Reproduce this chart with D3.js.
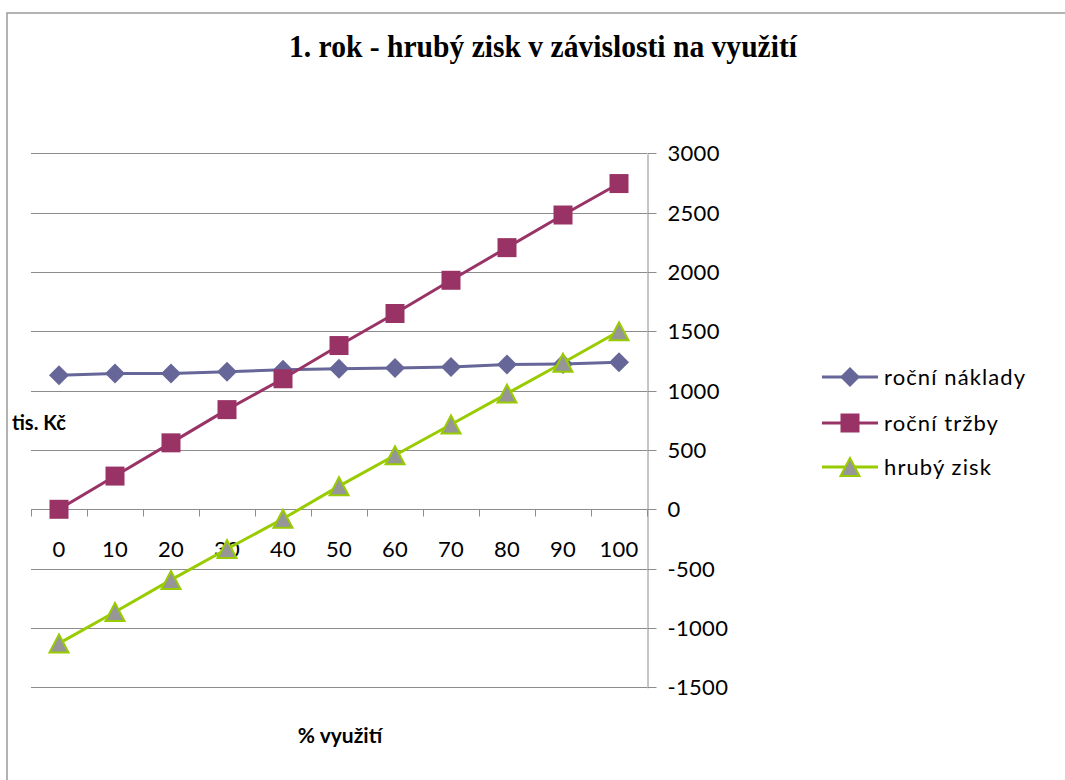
<!DOCTYPE html>
<html>
<head>
<meta charset="utf-8">
<script src="https://cdn.jsdelivr.net/npm/d3@7"></script>
<style>
  body { margin: 0; background: #fff; }
  text { font-family: Lato, "Noto Sans", sans-serif; fill: #000; }
</style>
</head>
<body>
<svg id="chart" width="1065" height="780"></svg>
<script>
  // data (tis. Kč)
  var categories = ["0", "10", "20", "30", "40", "50", "60", "70", "80", "90", "100"];
  var naklady = [1130, 1145, 1145, 1160, 1175, 1185, 1190, 1200, 1220, 1225, 1240];
  var trzby = [0, 280, 560, 840, 1100, 1380, 1650, 1930, 2205, 2480, 2745];
  var zisk = [-1130, -865, -595, -335, -80, 195, 455, 715, 975, 1235, 1500];
  var yTicks = [-1500, -1000, -500, 0, 500, 1000, 1500, 2000, 2500, 3000];
  var seriesNames = ["roční náklady", "roční tržby", "hrubý zisk"];

  var svg = d3.select("#chart");

  // outer frame
  svg.append("rect")
    .attr("x", 7).attr("y", 13)
    .attr("width", 1070).attr("height", 780)
    .attr("fill", "none")
    .attr("stroke", "#a0a0a0")
    .attr("stroke-width", 1.6);

  svg.append("text")
    .attr("x", 543).attr("y", 57)
    .attr("text-anchor", "middle")
    .attr("textLength", 508)
    .attr("lengthAdjust", "spacingAndGlyphs")
    .style("font-family", "'Liberation Serif', 'DejaVu Serif', serif")
    .style("font-weight", "bold")
    .style("font-size", "32px")
    .text("1. rok - hrubý zisk v závislosti na využití");

  var x = d3.scaleBand().domain(categories).range([31, 647]);
  var y = d3.scaleLinear().domain([-1500, 3000]).range([687.3, 153.3]);

  // gridlines
  svg.append("g").selectAll("line")
    .data(yTicks.filter(function(d){ return d != 0; }))
    .enter().append("line")
    .attr("x1", 31).attr("x2", 647)
    .attr("y1", function(d){ return Math.round(y(d)) + 0.5; })
    .attr("y2", function(d){ return Math.round(y(d)) + 0.5; })
    .attr("stroke", "#8c8c8c");

  // right value axis
  var yAxis = svg.append("g")
    .attr("transform", "translate(647.5,0.5)")
    .call(d3.axisRight(y).tickValues(yTicks).tickSize(9).tickPadding(11).tickSizeOuter(0)
      .tickFormat(function(d){ return String(d); }));
  yAxis.selectAll("path, line").attr("stroke", "#8c8c8c");
  yAxis.selectAll(".tick").attr("transform", function(d){ return "translate(0," + Math.round(y(d)) + ")"; });
  yAxis.selectAll("text")
    .style("font-family", "Lato, sans-serif")
    .style("font-size", "22px")
    .style("letter-spacing", "0.3px")
    .attr("dy", "0.35em");

  // category axis at zero
  var y0 = Math.round(y(0)) + 0.5;
  var catAxis = svg.append("g");
  catAxis.append("line")
    .attr("x1", 31).attr("x2", 647)
    .attr("y1", y0).attr("y2", y0)
    .attr("stroke", "#8c8c8c");
  var bounds = categories.map(function(c){ return x(c); }).concat([647]);
  catAxis.selectAll(".tk")
    .data(bounds)
    .enter().append("line")
    .attr("x1", function(d){ return Math.round(d) + 0.5; })
    .attr("x2", function(d){ return Math.round(d) + 0.5; })
    .attr("y1", y0).attr("y2", y0 + 7)
    .attr("stroke", "#8c8c8c");
  catAxis.selectAll("text")
    .data(categories)
    .enter().append("text")
    .attr("x", function(d){ return x(d) + x.bandwidth()/2; })
    .attr("y", 557)
    .attr("text-anchor", "middle")
    .style("font-size", "22px")
    .style("letter-spacing", "0.3px")
    .text(function(d){ return d; });

  // axis titles
  svg.append("text")
    .attr("x", 12).attr("y", 430)
    .style("font-weight", "bold").style("font-size", "20px")
    .text("tis. Kč");
  svg.append("text")
    .attr("x", 340).attr("y", 743)
    .attr("text-anchor", "middle")
    .style("font-weight", "bold").style("font-size", "21px")
    .text("% využití");

  function cx(i){ return x(categories[i]) + x.bandwidth()/2; }

  var diamond = "M0,-10L10,0L0,10L-10,0Z";
  var square = "M-9.5,-9.5H9.5V9.5H-9.5Z";
  var triangle = "M0,-9L9.5,9H-9.5Z";

  var series = [
    { name: seriesNames[0], values: naklady, color: "#666699", shape: diamond, fill: "#666699", stroke: "none" },
    { name: seriesNames[1], values: trzby, color: "#993366", shape: square, fill: "#993366", stroke: "none" },
    { name: seriesNames[2], values: zisk, color: "#99cc00", shape: triangle, fill: "#969696", stroke: "#99cc00" }
  ];

  var line = d3.line()
    .x(function(d, i){ return cx(i); })
    .y(function(d){ return y(d); });

  series.forEach(function(s){
    var g = svg.append("g");
    g.append("path")
      .attr("d", line(s.values))
      .attr("fill", "none")
      .attr("stroke", s.color)
      .attr("stroke-width", 3);
    g.selectAll("path.m")
      .data(s.values)
      .enter().append("path")
      .attr("class", "m")
      .attr("d", s.shape)
      .attr("transform", function(d, i){ return "translate(" + cx(i) + "," + y(d) + ")"; })
      .attr("fill", s.fill)
      .attr("stroke", s.stroke)
      .attr("stroke-width", 2);
  });

  // legend
  var legendY = [377, 423, 467];
  var legend = svg.append("g").selectAll("g")
    .data(series)
    .enter().append("g")
    .attr("transform", function(d, i){ return "translate(0," + legendY[i] + ")"; });
  legend.append("line")
    .attr("x1", 822).attr("x2", 878)
    .attr("stroke", function(d){ return d.color; })
    .attr("stroke-width", 3);
  legend.append("path")
    .attr("d", function(d){ return d.shape; })
    .attr("transform", "translate(850,0)")
    .attr("fill", function(d){ return d.fill; })
    .attr("stroke", function(d){ return d.stroke; })
    .attr("stroke-width", 2);
  legend.append("text")
    .attr("x", 884).attr("y", 0)
    .attr("dy", "0.35em")
    .style("font-size", "22px")
    .style("letter-spacing", "1.1px")
    .text(function(d){ return d.name; });
</script>
</body>
</html>
